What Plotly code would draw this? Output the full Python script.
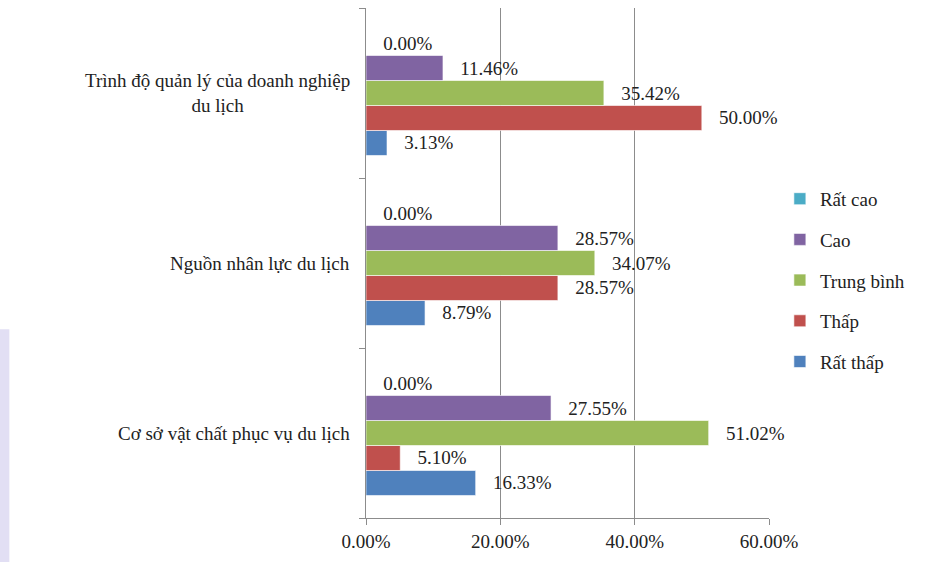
import plotly.graph_objects as go

# Categories, top to bottom as displayed
categories = [
    "Trình độ quản lý của doanh nghiệp<br>du lịch",
    "Nguồn nhân lực du lịch",
    "Cơ sở vật chất phục vụ du lịch",
]

# Series values (%) per category, same order as categories
rat_thap = [3.13, 8.79, 16.33]
thap = [50.00, 28.57, 5.10]
trung_binh = [35.42, 34.07, 51.02]
cao = [11.46, 28.57, 27.55]
rat_cao = [0.00, 0.00, 0.00]

series_names = ["Rất thấp", "Thấp", "Trung bình", "Cao", "Rất cao"]
series_values = [rat_thap, thap, trung_binh, cao, rat_cao]
series_colors = ["#4F81BD", "#C0504D", "#9BBB59", "#8064A2", "#4BACC6"]

x_ticks = [0, 20, 40, 60]

FONT = "Times New Roman, DejaVu Serif, serif"
TEXT_COLOR = "#222222"

fig = go.Figure()
for i, (name, vals, color) in enumerate(zip(series_names, series_values, series_colors)):
    fig.add_trace(go.Bar(
        y=categories,
        x=vals,
        name=name,
        orientation="h",
        legendgroup=name,
        legendrank=len(series_names) - i,
        marker=dict(color=color, line=dict(color="white", width=0.6)),
        text=[f"\u00a0\u00a0\u00a0{v:.2f}%" for v in vals],
        textposition="outside",
        textfont=dict(family=FONT, size=19, color=TEXT_COLOR),
        constraintext="none",
        cliponaxis=False,
        hoverinfo="x+name",
    ))

# Category labels drawn centred beside the axis
for cat in categories:
    fig.add_annotation(
        x=0, xref="paper", y=cat, yref="y",
        text=cat, showarrow=False,
        xanchor="right", xshift=-14, align="center",
        font=dict(family=FONT, size=19, color=TEXT_COLOR),
    )

# Faint lavender strip at the left edge of the page
fig.add_shape(
    type="rect", xref="paper", yref="paper",
    x0=-0.91, x1=-0.885, y0=-0.1, y1=0.37,
    fillcolor="#E2DFF4", line=dict(width=0), layer="below",
)

fig.update_layout(
    width=939, height=562,
    margin=dict(l=366, r=170, t=8, b=44),
    paper_bgcolor="white", plot_bgcolor="white",
    barmode="group", bargap=0.265, bargroupgap=0,
    font=dict(family=FONT, size=19, color=TEXT_COLOR),
    showlegend=True,
    legend=dict(
        x=1.027, xanchor="left", y=0.466, yanchor="middle",
        traceorder="grouped", tracegroupgap=13,
        font=dict(family=FONT, size=19, color=TEXT_COLOR),
        itemwidth=30,
    ),
    xaxis=dict(
        range=[0, 60], tickvals=x_ticks,
        ticktext=[f"{v:.2f}%" for v in x_ticks],
        showgrid=True, gridcolor="#8C8C8C", gridwidth=1,
        showline=True, linecolor="#8C8C8C", linewidth=1,
        ticks="outside", ticklen=6, tickcolor="#8C8C8C",
        zeroline=False,
        tickfont=dict(family=FONT, size=19, color=TEXT_COLOR),
    ),
    yaxis=dict(
        categoryorder="array", categoryarray=categories[::-1],
        showticklabels=False,
        showline=True, linecolor="#8C8C8C", linewidth=1,
        ticks="outside", ticklen=6, tickcolor="#8C8C8C",
        tickson="boundaries", showgrid=False,
    ),
)

fig.write_html("out.html")
